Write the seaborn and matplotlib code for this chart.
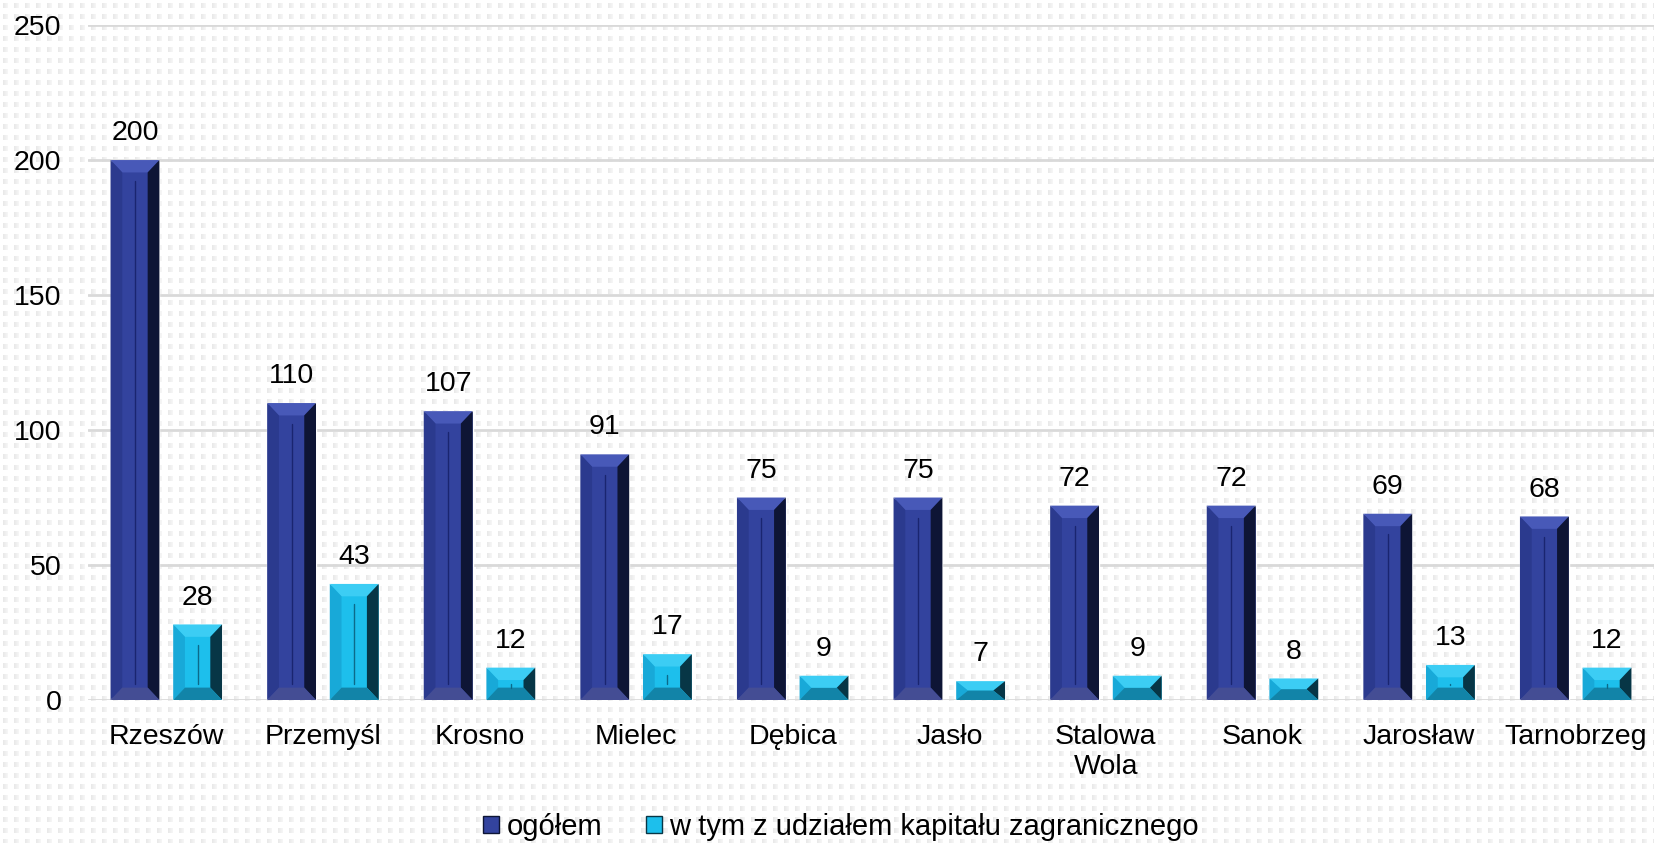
import matplotlib
matplotlib.use('Agg')
import matplotlib.pyplot as plt
from matplotlib.patches import Polygon, Patch
import numpy as np
import pandas as pd
import seaborn as sns

miasta = ['Rzeszów', 'Przemyśl', 'Krosno', 'Mielec', 'Dębica', 'Jasło',
          'Stalowa\nWola', 'Sanok', 'Jarosław', 'Tarnobrzeg']
ogolem = [200, 110, 107, 91, 75, 75, 72, 72, 69, 68]
zagraniczne = [28, 43, 12, 17, 9, 7, 9, 8, 13, 12]
serie = ['ogółem', 'w tym z udziałem kapitału zagranicznego']
yticks = [0, 50, 100, 150, 200, 250]

# colours: face, top, left, right, bottom, centre line
style = {
    'ogółem': dict(face='#33439E', top='#4859B8', left='#2B3A8E',
                   right='#0E1535', bottom='#444D94', line='#1A2570'),
    'w tym z udziałem kapitału zagranicznego': dict(
        face='#1DBFEC', top='#3CCDF4', left='#18A9D8',
        right='#073646', bottom='#1284A8', line='#0C6A8A'),
}

df = pd.DataFrame({
    'miasto': miasta * 2,
    'wartosc': ogolem + zagraniczne,
    'seria': [serie[0]] * len(miasta) + [serie[1]] * len(miasta),
})

sns.set_theme(style='white')
plt.rcParams['font.family'] = ['Liberation Sans', 'DejaVu Sans']
plt.rcParams['text.color'] = 'black'

fig = plt.figure(figsize=(16.54, 8.43), dpi=100)
fig.patch.set_facecolor('white')

# dotted background
H, W = 843, 1654
bg = np.ones((H, W, 3))
cell = 11
yy, xx = np.mgrid[0:H, 0:W]
cy, cx = yy % cell, xx % cell
mask = (cy >= 3) & (cy < 8) & (cx >= 3) & (cx < 8)
shade = 0.915 + 0.012 * (cx - 3)
bg[mask] = np.repeat(shade[mask][:, None], 3, axis=1)
fig.figimage(bg, 0, 0, zorder=-5, origin='upper')

ax = fig.add_axes([0.0532, 0.1696, 0.9468, 0.8007])
ax.set_facecolor('none')
ax.set_zorder(1)

sns.barplot(data=df, x='miasto', y='wartosc', hue='seria', ax=ax,
            palette=[style[s]['face'] for s in serie],
            width=0.8, gap=0.22, legend=False, saturation=1)

ax.set_ylim(0, 250)
ax.set_xlim(-0.5, len(miasta) - 0.5)
ax.set_yticks(yticks)
ax.yaxis.grid(True, color='#D9D9D9', linewidth=2)
ax.xaxis.grid(False)
ax.set_axisbelow(True)
for s in ax.spines.values():
    s.set_visible(False)
ax.tick_params(axis='both', length=0, labelsize=20.5, colors='black')
ax.tick_params(axis='y', pad=19)
ax.tick_params(axis='x', pad=17)
ax.set_xlabel('')
ax.set_ylabel('')

# bevel effect
bx_full, by_full = 0.075, 4.6
for cont, s in zip(ax.containers, serie):
    st = style[s]
    for p in cont.patches:
        x0, w, h = p.get_x(), p.get_width(), p.get_height()
        x1, y0, y1 = x0 + w, 0, h
        bx = min(bx_full, w / 2)
        by = min(by_full, h / 2)
        polys = [
            ([(x0, y1), (x1, y1), (x1 - bx, y1 - by), (x0 + bx, y1 - by)], st['top']),
            ([(x0, y0), (x0, y1), (x0 + bx, y1 - by), (x0 + bx, y0 + by)], st['left']),
            ([(x1, y0), (x1, y1), (x1 - bx, y1 - by), (x1 - bx, y0 + by)], st['right']),
            ([(x0, y0), (x1, y0), (x1 - bx, y0 + by), (x0 + bx, y0 + by)], st['bottom']),
        ]
        for pts, c in polys:
            ax.add_patch(Polygon(pts, closed=True, facecolor=c, edgecolor='none', zorder=3))
        if h > 2 * by_full + 2:
            xm = x0 + w / 2
            ax.plot([xm, xm], [y0 + by + 1.5, y1 - by - 3], color=st['line'],
                    lw=1, zorder=4)
    ax.bar_label(cont, labels=[f'{v:g}' for v in cont.datavalues],
                 padding=10, fontsize=20.5, color='black')

handles = [Patch(facecolor=style[s]['face'], edgecolor=style[s]['right'], label=s)
           for s in serie]
fig.legend(handles=handles, loc='center', bbox_to_anchor=(0.5086, 0.019), ncol=2,
           frameon=False, fontsize=21, handlelength=0.55, handleheight=0.55,
           handletextpad=0.25, columnspacing=1.5, borderaxespad=0)

fig.savefig('out.png', dpi=100, facecolor='white')
